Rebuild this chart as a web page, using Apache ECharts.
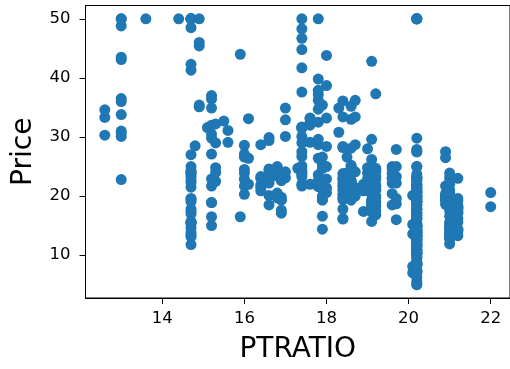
<!DOCTYPE html>
<html>
<head>
<meta charset="utf-8">
<script src="https://cdn.jsdelivr.net/npm/echarts@6/dist/echarts.min.js"></script>
<style>
  html, body { margin: 0; padding: 0; background: #ffffff; }
  #chart { width: 510px; height: 369px; }
</style>
</head>
<body>
<div id="chart"></div>
<script>
// ---- Data ----
const xTickValues = [14, 16, 18, 20, 22];
const yTickValues = [10, 20, 30, 40, 50];

const ptratioLevels = [12.6, 13.0, 13.6, 14.4, 14.7, 14.8, 14.9, 15.1, 15.2, 15.3, 15.5, 15.6, 15.9, 16.0, 16.1, 16.4, 16.6, 16.8, 16.9, 17.0, 17.3, 17.4, 17.6, 17.8, 17.9, 18.0, 18.3, 18.4, 18.5, 18.6, 18.7, 18.9, 19.0, 19.1, 19.2, 19.6, 19.7, 20.1, 20.2, 20.9, 21.0, 21.1, 21.2, 22.0];

const price12_6 = [33.3, 30.3, 34.6];
const price13_0 = [50.0, 36.0, 30.1, 33.8, 43.1, 48.8, 31.0, 36.5, 22.8, 30.7, 50.0, 43.5];
const price13_6 = [50.0];
const price14_4 = [50.0];
const price14_7 = [13.4, 15.6, 11.8, 13.8, 15.6, 14.6, 17.8, 15.4, 21.5, 19.6, 15.3, 19.4, 17.0, 15.6, 13.1, 41.3, 24.3, 23.3, 27.0, 50.0, 50.0, 50.0, 22.7, 25.0, 50.0, 23.8, 23.8, 22.3, 17.4, 19.1, 24.1, 42.3, 48.5, 50.0];
const price14_8 = [28.5];
const price14_9 = [35.1, 45.4, 35.4, 46.0, 50.0];
const price15_1 = [31.6];
const price15_2 = [22.9, 27.1, 16.5, 18.9, 15.0, 18.9, 21.7, 32.0, 29.8, 34.9, 37.0, 30.5, 36.4];
const price15_3 = [24.0, 22.5, 24.8, 29.0, 32.2];
const price15_5 = [32.7];
const price15_6 = [31.1, 29.1];
const price15_9 = [44.0, 16.5];
const price16_0 = [28.6, 27.1, 26.6, 24.5, 23.9, 22.9, 21.7, 20.3];
const price16_1 = [33.1, 22.0, 26.4];
const price16_4 = [23.3, 28.7, 21.5, 23.0, 21.9, 20.9];
const price16_6 = [23.1, 23.6, 22.6, 29.4, 23.2, 24.6, 29.9, 20.1, 22.2, 23.7, 18.5, 24.3];
const price16_8 = [19.7, 20.5, 25.0, 23.4];
const price16_9 = [19.3, 22.6, 19.8, 17.1, 19.4, 17.6];
const price17_0 = [34.9, 32.9, 30.1, 23.1, 24.1];
const price17_3 = [24.7];
const price17_4 = [26.7, 21.7, 27.5, 30.1, 44.8, 50.0, 37.6, 31.6, 46.7, 31.5, 24.3, 31.7, 41.7, 48.3, 29.0, 24.0, 25.1, 31.5, 23.7, 23.3, 22.0];
const price17_6 = [32.4, 32.0, 33.2, 33.1, 29.1, 22.0];
const price17_8 = [21.6, 34.7, 23.6, 28.7, 22.6, 22.0, 37.2, 39.8, 36.2, 37.9, 32.5, 26.4, 29.6, 50.0];
const price17_9 = [26.6, 25.3, 24.7, 21.2, 19.3, 20.0, 16.6, 14.4, 19.4, 35.4];
const price18_0 = [22.9, 25.0, 20.6, 28.4, 21.4, 38.7, 43.8, 33.2];
const price18_3 = [30.8, 34.9];
const price18_4 = [28.2, 22.8, 20.3, 16.1, 22.1, 19.4, 21.6, 23.8, 16.2, 17.8, 19.8, 23.1, 21.0, 36.1, 28.4, 33.4];
const price18_5 = [23.9, 26.6, 22.5, 22.2];
const price18_6 = [33.0, 22.6, 24.4, 22.5, 24.4, 20.0, 21.7, 19.3, 22.4, 28.1, 23.7, 25.0, 20.7, 21.1, 25.2, 24.4, 35.2];
const price18_7 = [33.4, 36.2, 28.7, 24.1, 21.4, 20.0, 20.8, 21.2, 20.3];
const price18_9 = [22.0, 17.4, 20.9];
const price19_0 = [28.0, 23.9, 24.8, 22.9];
const price19_1 = [22.8, 18.7, 18.5, 18.3, 21.2, 19.2, 20.4, 19.3, 22.0, 20.3, 20.5, 17.3, 18.8, 21.4, 15.7, 20.5, 24.5, 26.2, 24.4, 24.8, 29.6, 42.8];
const price19_2 = [18.9, 20.0, 21.0, 24.7, 24.2, 21.7, 22.8, 23.4, 21.8, 24.5, 23.1, 19.7, 18.3, 21.2, 17.5, 16.8, 37.3];
const price19_6 = [23.8, 23.1, 20.4, 18.5, 25.0, 24.6, 23.0, 22.2];
const price19_7 = [23.3, 19.6, 18.7, 16.0, 22.2, 25.0, 27.9];
const price20_1 = [15.2, 7.0, 8.1, 13.6, 20.1];
const price20_2 = [17.8, 21.7, 22.7, 22.6, 25.0, 19.9, 20.8, 16.8, 21.9, 27.5, 21.9, 23.1, 50.0, 50.0, 50.0, 50.0, 50.0, 13.8, 13.8, 15.0, 13.9, 13.3, 13.1, 10.2, 10.4, 10.9, 11.3, 12.3, 8.8, 7.2, 10.5, 7.4, 10.2, 11.5, 15.1, 23.2, 9.7, 13.8, 12.7, 13.1, 12.5, 8.5, 5.0, 6.3, 5.6, 7.2, 12.1, 8.3, 8.5, 5.0, 11.9, 27.9, 17.2, 27.5, 15.0, 17.2, 17.9, 16.3, 7.0, 7.2, 7.5, 10.4, 8.8, 8.4, 16.7, 14.2, 20.8, 13.4, 11.7, 8.3, 10.2, 10.9, 11.0, 9.5, 14.5, 14.1, 16.1, 14.3, 11.7, 13.4, 9.6, 8.7, 8.4, 12.8, 10.5, 17.1, 18.4, 15.4, 10.8, 11.8, 14.9, 12.6, 14.1, 13.0, 13.4, 15.2, 16.1, 17.8, 14.9, 14.1, 12.7, 13.5, 14.9, 20.0, 16.4, 17.7, 19.5, 20.2, 21.4, 19.9, 19.0, 19.1, 19.1, 20.1, 19.9, 19.6, 23.2, 29.8, 13.8, 13.3, 16.7, 12.0, 14.6, 21.4, 23.0, 23.7, 25.0, 21.8, 20.6, 21.2, 19.1, 20.6, 22.2, 20.7, 21.1, 19.5, 18.5, 20.6, 19.0, 18.7];
const price20_9 = [27.5, 26.5, 18.6, 19.3, 20.1, 19.5, 19.5, 20.4, 19.8, 19.4, 21.7];
const price21_0 = [20.4, 18.2, 19.9, 23.1, 17.5, 20.2, 18.2, 13.6, 19.6, 15.2, 14.5, 15.6, 13.9, 16.6, 14.8, 18.4, 21.0, 12.7, 14.5, 13.2, 13.1, 13.5, 22.4, 20.6, 23.9, 22.0, 11.9];
const price21_1 = [18.9];
const price21_2 = [16.2, 18.0, 14.3, 19.2, 19.6, 23.0, 18.4, 15.6, 18.1, 17.4, 17.1, 13.3, 17.8, 14.0, 14.4];
const price22_0 = [18.2, 20.6];

const pricesByLevel = [price12_6, price13_0, price13_6, price14_4, price14_7, price14_8, price14_9, price15_1, price15_2, price15_3, price15_5, price15_6, price15_9, price16_0, price16_1, price16_4, price16_6, price16_8, price16_9, price17_0, price17_3, price17_4, price17_6, price17_8, price17_9, price18_0, price18_3, price18_4, price18_5, price18_6, price18_7, price18_9, price19_0, price19_1, price19_2, price19_6, price19_7, price20_1, price20_2, price20_9, price21_0, price21_1, price21_2, price22_0];

// ---- Build points ----
const points = [];
ptratioLevels.forEach(function (lvl, i) {
  pricesByLevel[i].forEach(function (p) { points.push([lvl, p]); });
});

const FONT = 'DejaVu Sans';
const chart = echarts.init(document.getElementById('chart'), null, { renderer: 'canvas' });
chart.setOption({
  animation: false,
  backgroundColor: '#ffffff',
  grid: {
    left: 85.5, top: 5.5, width: 425.5, height: 296,
    show: true, borderColor: '#000000', borderWidth: 1, backgroundColor: 'transparent'
  },
  xAxis: {
    type: 'value',
    min: 12.13, max: 22.47,
    name: 'PTRATIO',
    nameLocation: 'middle',
    nameGap: 38,
    nameTextStyle: { fontFamily: FONT, fontSize: 28, color: '#000000' },
    axisLine: { show: true, onZero: false, lineStyle: { color: '#000000', width: 1 } },
    axisTick: { show: true, length: 6, inside: false, customValues: xTickValues, lineStyle: { color: '#000000', width: 1 } },
    axisLabel: { customValues: xTickValues, fontFamily: FONT, fontSize: 16.5, color: '#000000', margin: 12 },
    splitLine: { show: false }
  },
  yAxis: {
    type: 'value',
    min: 2.75, max: 52.25,
    name: 'Price',
    nameLocation: 'middle',
    nameGap: 48,
    nameRotate: 90,
    nameTextStyle: { fontFamily: FONT, fontSize: 28, color: '#000000' },
    axisLine: { show: true, onZero: false, lineStyle: { color: '#000000', width: 1 } },
    axisTick: { show: true, length: 6, inside: false, customValues: yTickValues, lineStyle: { color: '#000000', width: 1 } },
    axisLabel: { customValues: yTickValues, fontFamily: FONT, fontSize: 16.5, color: '#000000', margin: 15 },
    splitLine: { show: false }
  },
  series: [{
    type: 'scatter',
    data: points,
    symbol: 'circle',
    symbolSize: 11,
    itemStyle: { color: '#1f77b4', opacity: 1 },
    emphasis: { disabled: true }
  }]
});
</script>
</body>
</html>
